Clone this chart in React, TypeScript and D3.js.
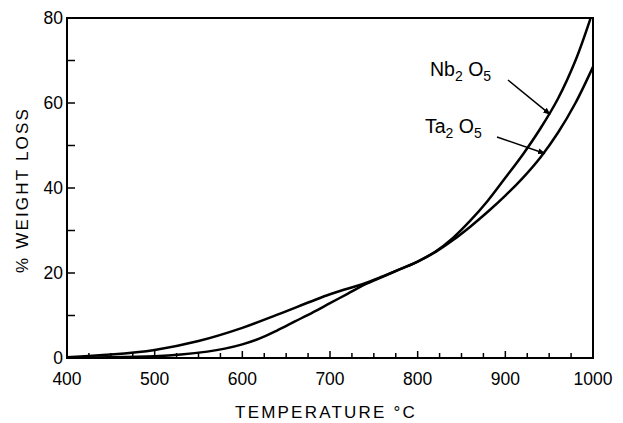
import React from 'react';
import * as d3 from 'd3';

// Temperature (°C) / % weight loss
const nbTemp = [400, 450, 500, 530, 560, 580, 600, 620, 640, 660, 680, 700, 720, 740, 760, 780, 800, 820, 840, 860, 880, 900, 920, 940, 960, 980, 997];
const nbLoss = [0.1, 0.15, 0.4, 0.8, 1.5, 2.2, 3.2, 4.6, 6.5, 8.6, 10.7, 12.9, 15.1, 17.3, 19.1, 20.9, 22.7, 25.0, 28.2, 32.3, 37.0, 42.4, 47.9, 54.0, 61.0, 70.0, 79.8];

const taTemp = [400, 450, 500, 550, 600, 640, 700, 740, 760, 780, 800, 820, 840, 860, 880, 900, 920, 940, 960, 980, 1000];
const taLoss = [0.2, 0.8, 1.9, 4.0, 7.1, 10.2, 15.0, 17.6, 19.2, 20.9, 22.7, 24.9, 27.7, 30.9, 34.4, 38.2, 42.4, 47.2, 53.0, 60.0, 68.5];

const xTicks = [400, 500, 600, 700, 800, 900, 1000];
const yTicks = [0, 20, 40, 60, 80];

const W = 623;
const H = 423;
const left = 67, right = 593, top = 18, bottom = 358;

const font = '"Liberation Sans", Arial, sans-serif';

export default function App() {
  const x = d3.scaleLinear().domain([400, 1000]).range([left, right]);
  const y = d3.scaleLinear().domain([0, 80]).range([bottom, top]);

  const line = d3.line<[number, number]>()
    .x(d => x(d[0]))
    .y(d => y(d[1]))
    .curve(d3.curveCatmullRom.alpha(0.5));

  const nbPath = line(nbTemp.map((t, i) => [t, nbLoss[i]]) as [number, number][]) || '';
  const taPath = line(taTemp.map((t, i) => [t, taLoss[i]]) as [number, number][]) || '';

  const minorX = d3.range(400, 1001, 25);
  const minorY = d3.range(0, 81, 10);

  return (
    <svg width={W} height={H} style={{ position: 'absolute', left: 0, top: 0, background: '#fff' }}
      fontFamily={font}>
      <defs>
        <marker id="arr" viewBox="0 0 10 10" refX="9" refY="5" markerWidth="5" markerHeight="5"
          orient="auto" markerUnits="strokeWidth">
          <path d="M0,1 L10,5 L0,9 Z" fill="#000" />
        </marker>
      </defs>

      {/* frame */}
      <rect x={left} y={top} width={right - left} height={bottom - top} fill="none" stroke="#000" strokeWidth={2} />

      {/* x ticks, pointing inward */}
      {minorX.map(t => (
        <line key={'xt' + t} x1={x(t)} x2={x(t)} y1={bottom} y2={bottom - (t % 100 === 0 ? 7 : 5)}
          stroke="#000" strokeWidth={1.5} />
      ))}
      {/* y ticks */}
      {minorY.map(v => (
        <line key={'yt' + v} x1={left} x2={left + 8} y1={y(v)} y2={y(v)} stroke="#000" strokeWidth={1.5} />
      ))}

      {xTicks.map(t => (
        <text key={'xl' + t} x={x(t)} y={bottom + 27} textAnchor="middle" fontSize={17.5}>{t}</text>
      ))}
      {yTicks.map(v => (
        <text key={'yl' + v} x={left - 4} y={y(v) + 6} textAnchor="end" fontSize={17.5}>{v}</text>
      ))}

      {/* axis titles */}
      <text x={(left + right) / 2 - 4} y={418} textAnchor="middle" fontSize={17} letterSpacing={2.2}>
        TEMPERATURE °C
      </text>
      <text transform={`translate(28,${(top + bottom) / 2 + 2}) rotate(-90)`} textAnchor="middle"
        fontSize={17} letterSpacing={2.2}>
        % WEIGHT LOSS
      </text>

      {/* curves */}
      <path d={nbPath} fill="none" stroke="#000" strokeWidth={2.5} />
      <path d={taPath} fill="none" stroke="#000" strokeWidth={2.5} />

      {/* labels */}
      <text x={430} y={76} fontSize={19.5}>
        Nb<tspan fontSize={14} dy={5}>2</tspan><tspan dy={-5}> O</tspan><tspan fontSize={14} dy={5}>5</tspan>
      </text>
      <line x1={508} y1={80} x2={x(951)} y2={y(57.8) + 2} stroke="#000" strokeWidth={1.5} markerEnd="url(#arr)" />

      <text x={425} y={133} fontSize={19.5}>
        Ta<tspan fontSize={14} dy={5}>2</tspan><tspan dy={-5}> O</tspan><tspan fontSize={14} dy={5}>5</tspan>
      </text>
      <line x1={497} y1={137} x2={x(945)} y2={y(48.6) + 2} stroke="#000" strokeWidth={1.5} markerEnd="url(#arr)" />
    </svg>
  );
}
